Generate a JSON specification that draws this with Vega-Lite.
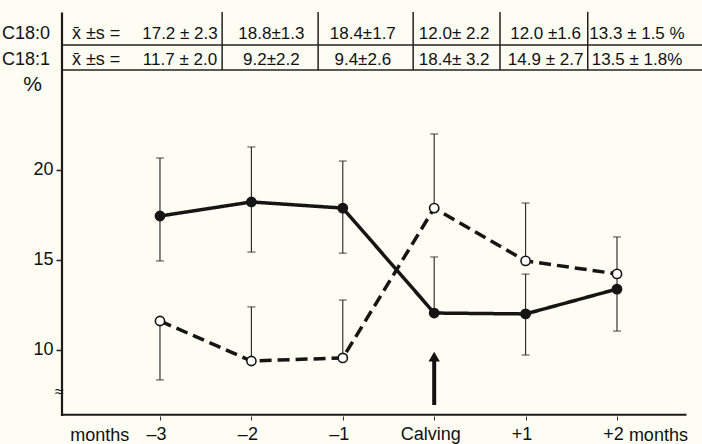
{
  "$schema": "https://vega.github.io/schema/vega-lite/v6.json",
  "width": 640,
  "height": 416,
  "autosize": "none",
  "padding": {"left": 62, "top": 0, "right": 0, "bottom": 28},
  "background": "#fdfdf3",
  "config": {
    "view": {"stroke": null},
    "font": "Liberation Sans",
    "text": {"font": "Liberation Sans", "fill": "#111111"}
  },
  "datasets": {
    "series": [
      {"acid": "C18:0", "month": -3, "value": 17.42, "lo": 14.93, "hi": 20.64},
      {"acid": "C18:0", "month": -2, "value": 18.2, "lo": 15.42, "hi": 21.25},
      {"acid": "C18:0", "month": -1, "value": 17.86, "lo": 15.36, "hi": 20.47},
      {"acid": "C18:0", "month": 0, "value": 12.04, "lo": 12.04, "hi": 15.15},
      {"acid": "C18:0", "month": 1, "value": 11.99, "lo": 9.71, "hi": 14.2},
      {"acid": "C18:0", "month": 2, "value": 13.37, "lo": 11.04, "hi": 14.21},
      {"acid": "C18:1", "month": -3, "value": 11.6, "lo": 8.33, "hi": 11.6},
      {"acid": "C18:1", "month": -2, "value": 9.38, "lo": 9.38, "hi": 12.38},
      {"acid": "C18:1", "month": -1, "value": 9.55, "lo": 9.55, "hi": 12.76},
      {"acid": "C18:1", "month": 0, "value": 17.86, "lo": 17.86, "hi": 21.97},
      {"acid": "C18:1", "month": 1, "value": 14.93, "lo": 14.93, "hi": 18.14},
      {"acid": "C18:1", "month": 2, "value": 14.21, "lo": 14.21, "hi": 16.26}
    ],
    "table": [
      {"acid": "C18:0", "month": -3, "label": "17.2 ± 2.3"},
      {"acid": "C18:0", "month": -2, "label": "18.8±1.3"},
      {"acid": "C18:0", "month": -1, "label": "18.4±1.7"},
      {"acid": "C18:0", "month": 0, "label": "12.0± 2.2"},
      {"acid": "C18:0", "month": 1, "label": "12.0 ±1.6"},
      {"acid": "C18:0", "month": 2, "label": "13.3 ± 1.5 %"},
      {"acid": "C18:1", "month": -3, "label": "11.7 ± 2.0"},
      {"acid": "C18:1", "month": -2, "label": "9.2±2.2"},
      {"acid": "C18:1", "month": -1, "label": "9.4±2.6"},
      {"acid": "C18:1", "month": 0, "label": "18.4± 3.2"},
      {"acid": "C18:1", "month": 1, "label": "14.9 ± 2.7"},
      {"acid": "C18:1", "month": 2, "label": "13.5 ± 1.8%"}
    ],
    "dividers": [{"at": -2.32}, {"at": -1.27}, {"at": -0.23}, {"at": 0.72}, {"at": 1.68}],
    "hlines": [{"level": 26.9}, {"level": 25.52}],
    "rowlabels": [
      {"acid": "C18:0", "name": "C18:0"},
      {"acid": "C18:1", "name": "C18:1"}
    ]
  },
  "layer": [
    {
      "data": {"name": "dividers"},
      "mark": {"type": "rule", "stroke": "#222", "strokeWidth": 1.5},
      "encoding": {
        "x": {"field": "at", "type": "quantitative", "scale": {"domain": [-4.072, 2.93], "nice": false, "zero": false},
              "axis": {"values": [-3, -2, -1, 0, 1, 2], "domain": false, "grid": false, "title": null,
                       "tickSize": 4, "tickColor": "#333", "labelFontSize": 18, "labelColor": "#111111",
                       "labelPadding": 5, "labelOffset": -4, "labelFont": "Liberation Sans",
                       "labelExpr": "datum.value == 0 ? 'Calving' : (datum.value > 0 ? '+' + datum.value : '–' + abs(datum.value))"}},
        "y": {"datum": 28.74, "type": "quantitative", "scale": {"domain": [6.33, 29.4], "nice": false, "zero": false},
              "axis": {"values": [10, 15, 20], "domain": false, "grid": false, "tickSize": 6, "tickColor": "#222",
                       "tickWidth": 1.5, "labelFontSize": 18, "labelColor": "#111111", "labelPadding": 3,
                       "labelFont": "Liberation Sans",
                       "title": "%", "titleAngle": 0, "titleX": -30, "titleY": 84, "titleAlign": "center",
                       "titleBaseline": "middle", "titleFontSize": 21, "titleFontWeight": "normal",
                       "titleColor": "#111111", "titleFont": "Liberation Sans"}},
        "y2": {"datum": 25.52}
      }
    },
    {
      "data": {"name": "hlines"},
      "mark": {"type": "rule", "stroke": "#222", "strokeWidth": 1.5},
      "encoding": {
        "y": {"field": "level", "type": "quantitative"},
        "x": {"datum": -4.072},
        "x2": {"datum": 2.93}
      }
    },
    {
      "data": {"values": [{}]},
      "mark": {"type": "rule", "stroke": "#1a1a1a", "strokeWidth": 2.2},
      "encoding": {
        "x": {"datum": -4.072},
        "y": {"datum": 28.7},
        "y2": {"datum": 6.33}
      }
    },
    {
      "data": {"values": [{}]},
      "mark": {"type": "rule", "stroke": "#1a1a1a", "strokeWidth": 2},
      "encoding": {
        "x": {"datum": -4.072},
        "x2": {"datum": 2.76},
        "y": {"datum": 6.4}
      }
    },
    {
      "data": {"values": [{"sym": "≈"}]},
      "mark": {"type": "text", "fontSize": 16, "align": "center", "baseline": "middle"},
      "encoding": {
        "x": {"datum": -4.1},
        "y": {"datum": 7.66},
        "text": {"field": "sym"}
      }
    },
    {
      "data": {"name": "series"},
      "mark": {"type": "rule", "stroke": "#222", "strokeWidth": 1.1},
      "encoding": {
        "x": {"field": "month", "type": "quantitative"},
        "y": {"field": "lo", "type": "quantitative"},
        "y2": {"field": "hi"}
      }
    },
    {
      "data": {"name": "series"},
      "mark": {"type": "tick", "orient": "horizontal", "size": 8, "thickness": 1.2, "color": "#222"},
      "encoding": {
        "x": {"field": "month", "type": "quantitative"},
        "y": {"field": "lo", "type": "quantitative"}
      }
    },
    {
      "data": {"name": "series"},
      "mark": {"type": "tick", "orient": "horizontal", "size": 8, "thickness": 1.2, "color": "#222"},
      "encoding": {
        "x": {"field": "month", "type": "quantitative"},
        "y": {"field": "hi", "type": "quantitative"}
      }
    },
    {
      "data": {"name": "series"},
      "mark": {"type": "line", "stroke": "#151515", "strokeWidth": 3.5},
      "encoding": {
        "x": {"field": "month", "type": "quantitative"},
        "y": {"field": "value", "type": "quantitative"},
        "detail": {"field": "acid"},
        "strokeDash": {"field": "acid", "type": "nominal", "scale": {"domain": ["C18:0", "C18:1"], "range": [[1, 0], [12, 6]]}, "legend": null},
        "order": {"field": "month"}
      }
    },
    {
      "data": {"name": "series"},
      "mark": {"type": "point", "filled": true, "size": 85, "stroke": "#151515", "strokeWidth": 1.6, "opacity": 1},
      "encoding": {
        "x": {"field": "month", "type": "quantitative"},
        "y": {"field": "value", "type": "quantitative"},
        "fill": {"field": "acid", "type": "nominal", "scale": {"domain": ["C18:0", "C18:1"], "range": ["#151515", "#ffffff"]}, "legend": null}
      }
    },
    {
      "data": {"name": "table"},
      "transform": [{"filter": "datum.acid == 'C18:0'"}],
      "mark": {"type": "text", "fontSize": 17, "align": "center", "baseline": "alphabetic", "dx": 20},
      "encoding": {
        "x": {"field": "month", "type": "quantitative"},
        "y": {"datum": 27.24},
        "text": {"field": "label"}
      }
    },
    {
      "data": {"name": "table"},
      "transform": [{"filter": "datum.acid == 'C18:1'"}],
      "mark": {"type": "text", "fontSize": 17, "align": "center", "baseline": "alphabetic", "dx": 20},
      "encoding": {
        "x": {"field": "month", "type": "quantitative"},
        "y": {"datum": 25.82},
        "text": {"field": "label"}
      }
    },
    {
      "data": {"name": "rowlabels"},
      "transform": [{"filter": "datum.acid == 'C18:0'"}],
      "layer": [
        {"mark": {"type": "text", "fontSize": 18, "align": "left", "baseline": "alphabetic"},
         "encoding": {"x": {"datum": -4.728}, "y": {"datum": 27.24}, "text": {"field": "name"}}},
        {"mark": {"type": "text", "fontSize": 18, "align": "left", "baseline": "alphabetic"},
         "encoding": {"x": {"datum": -3.963}, "y": {"datum": 27.24}, "text": {"value": "x̄ ±s ="}}}
      ]
    },
    {
      "data": {"name": "rowlabels"},
      "transform": [{"filter": "datum.acid == 'C18:1'"}],
      "layer": [
        {"mark": {"type": "text", "fontSize": 18, "align": "left", "baseline": "alphabetic"},
         "encoding": {"x": {"datum": -4.728}, "y": {"datum": 25.82}, "text": {"field": "name"}}},
        {"mark": {"type": "text", "fontSize": 18, "align": "left", "baseline": "alphabetic"},
         "encoding": {"x": {"datum": -3.963}, "y": {"datum": 25.82}, "text": {"value": "x̄ ±s ="}}}
      ]
    },
    {
      "data": {"values": [{"word": "months"}]},
      "layer": [
        {"mark": {"type": "text", "fontSize": 18, "align": "center", "baseline": "alphabetic"},
         "encoding": {"x": {"datum": -3.66}, "y": {"datum": 4.95}, "text": {"field": "word"}}},
        {"mark": {"type": "text", "fontSize": 18, "align": "left", "baseline": "alphabetic"},
         "encoding": {"x": {"datum": 2.13}, "y": {"datum": 4.95}, "text": {"field": "word"}}}
      ]
    },
    {
      "data": {"values": [{"month": 0}]},
      "layer": [
        {"mark": {"type": "rule", "stroke": "#111", "strokeWidth": 4},
         "encoding": {"x": {"field": "month", "type": "quantitative"}, "y": {"datum": 9.4}, "y2": {"datum": 6.94}}},
        {"mark": {"type": "point", "shape": "triangle-up", "filled": true, "size": 130, "color": "#111", "opacity": 1},
         "encoding": {"x": {"field": "month", "type": "quantitative"}, "y": {"datum": 9.62}}}
      ]
    }
  ]
}
